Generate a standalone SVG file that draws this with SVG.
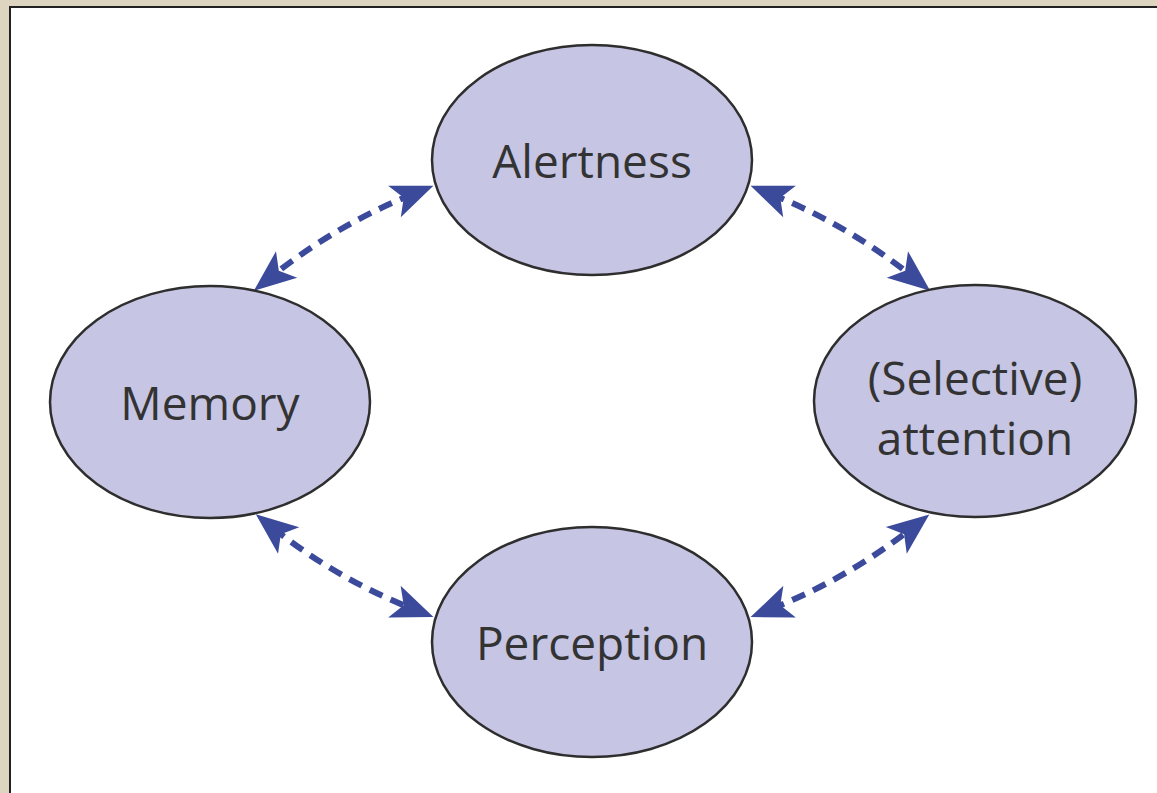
<svg xmlns="http://www.w3.org/2000/svg" width="1157" height="793" viewBox="0 0 1157 793">
<style>
.node ellipse{fill:#c6c5e3;stroke:#2e2e2e;stroke-width:2.5}
.node text{font-family:"Open Sans","Noto Sans",sans-serif;font-size:46px;fill:#333;text-anchor:middle}
.conn path{fill:none;stroke:#3c4a9c;stroke-width:6;stroke-dasharray:14 9;marker-start:url(#ah);marker-end:url(#ah)}
</style>
<defs>
<marker id="ah" markerUnits="userSpaceOnUse" viewBox="-2 -20 46 40" markerWidth="46" markerHeight="40" refX="20" refY="0" orient="auto-start-reverse">
<path d="M42,0 L0,-17 L10,0 L0,17 Z" fill="#3c4a9c"/>
</marker>
</defs>
<rect x="0" y="0" width="1157" height="793" fill="#ddd5c0"/>
<rect x="10" y="7" width="1160" height="800" fill="#fff" stroke="#222" stroke-width="2"/>
<g class="conn">
<path d="M413,194 Q336,225 271,277"/>
<path d="M771,194 Q848,225 913,277"/>
<path d="M273,528 Q337,579 413,609"/>
<path d="M771,609 Q847,579 912,528"/>
</g>
<g id="alertness" class="node"><ellipse cx="592" cy="160" rx="160" ry="115"/><text x="592" y="178">Alertness</text></g>
<g id="memory" class="node"><ellipse cx="210" cy="402" rx="160" ry="116"/><text x="210" y="420">Memory</text></g>
<g id="attention" class="node"><ellipse cx="975" cy="401" rx="161" ry="116"/><text x="975" y="395">(Selective)</text><text x="975" y="455">attention</text></g>
<g id="perception" class="node"><ellipse cx="592" cy="642" rx="160" ry="115"/><text x="592" y="660">Perception</text></g>
</svg>
